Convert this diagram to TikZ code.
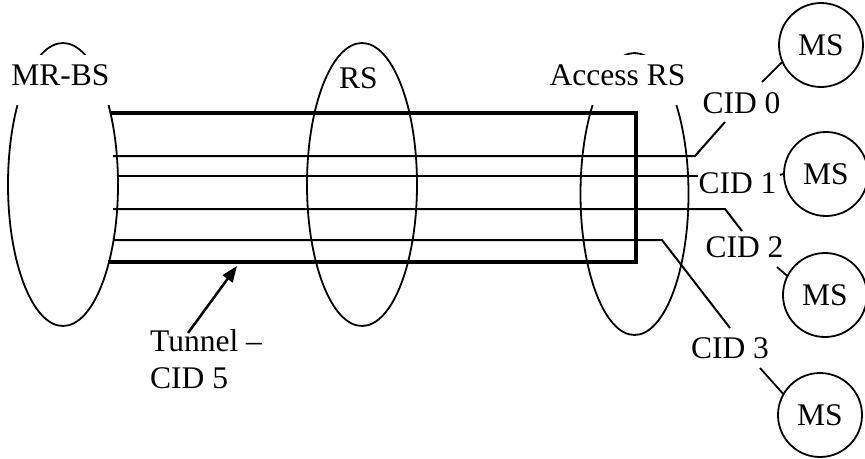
\documentclass[tikz,border=0pt]{standalone}
\usepackage{fontspec}
\setmainfont{Liberation Serif}
\usetikzlibrary{arrows.meta}
\begin{document}
\begin{tikzpicture}[x=1pt,y=-1pt,
  txt/.style={font=\fontsize{31.5}{37}\selectfont, inner sep=0pt},
  title/.style={txt, fill=white, text height=30pt, text depth=20pt, inner xsep=4pt, anchor=base},
  cid/.style={txt, anchor=base},
  ms/.style={txt, draw, circle, line width=1.8pt, minimum size=84pt},
  ell/.style={line width=1.8pt},
  wire/.style={line width=2pt},
  tunnelline/.style={line width=4.4pt},
  link/.style={line width=1.8pt}]
\useasboundingbox (0,0) rectangle (865,458);
\fill[white] (0,0) rectangle (865,458);

% ellipses
\draw[ell] (63,184.5) ellipse [x radius=55, y radius=141.5];
\draw[ell] (362,184.5) ellipse [x radius=55, y radius=141.5];
\draw[ell] (634.5,194) ellipse [x radius=54, y radius=141];

% tunnel
\coordinate (t1) at (110,113);
\coordinate (t2) at (636,113);
\coordinate (t3) at (636,262);
\coordinate (t4) at (108,262);
\draw[tunnelline] (t1) -- (t2) -- (t3) -- (t4);

% connection lines
\coordinate (s0) at (113,156); \coordinate (b0) at (695,156); \coordinate (e0) at (725,122);
\coordinate (s1) at (117,176); \coordinate (e1) at (698,176);
\coordinate (s2) at (113,209); \coordinate (b2) at (725,209); \coordinate (e2) at (742,231);
\coordinate (s3) at (113,240); \coordinate (b3) at (662,240); \coordinate (e3) at (730,328);
\draw[wire] (s0) -- (b0) -- (e0);
\draw[wire] (s1) -- (e1);
\draw[wire] (s2) -- (b2) -- (e2);
\draw[wire] (s3) -- (b3) -- (e3);

% titles
\node[title] (mrbs) at (60.5,85) {MR-BS};
\node[txt, fill=white, text height=31pt, text depth=5pt, anchor=base west] (rs) at (339,88) {RS\hspace{12pt}};
\node[title] (ars) at (617.5,85) {Access RS};

% CID labels
\node[cid] (cid0) at (741.5,113) {CID 0};
\node[cid] (cid1) at (737.5,193) {CID 1};
\node[cid] (cid2) at (744.5,257) {CID 2};
\node[cid] (cid3) at (730,358) {CID 3};

% MS circles
\node[ms] (ms1) at (821,45) {MS};
\node[ms] (ms2) at (826,174) {MS};
\node[ms] (ms3) at (825,295) {MS};
\node[ms] (ms4) at (820,415) {MS};

\coordinate (c0) at (762,82);
\coordinate (c1) at (780,175);
\coordinate (c2) at (777,267);
\coordinate (c3) at (760,368);
\draw[link] (c0) -- (ms1.204);
\draw[link] (c1) -- (ms2.west);
\draw[link] (c2) -- (ms3.153);
\draw[link] (c3) -- (ms4.150);

% tunnel label and arrow
\node[txt, align=left, anchor=north west] (tunnel) at (150,329.5) {Tunnel –\\CID 5};
\coordinate (arrtail) at (188,333);
\coordinate (arrtip) at (237,266);
\draw[line width=2.5pt, -{Triangle[length=16pt,width=12pt]}] (arrtail) -- (arrtip);
\end{tikzpicture}
\end{document}
